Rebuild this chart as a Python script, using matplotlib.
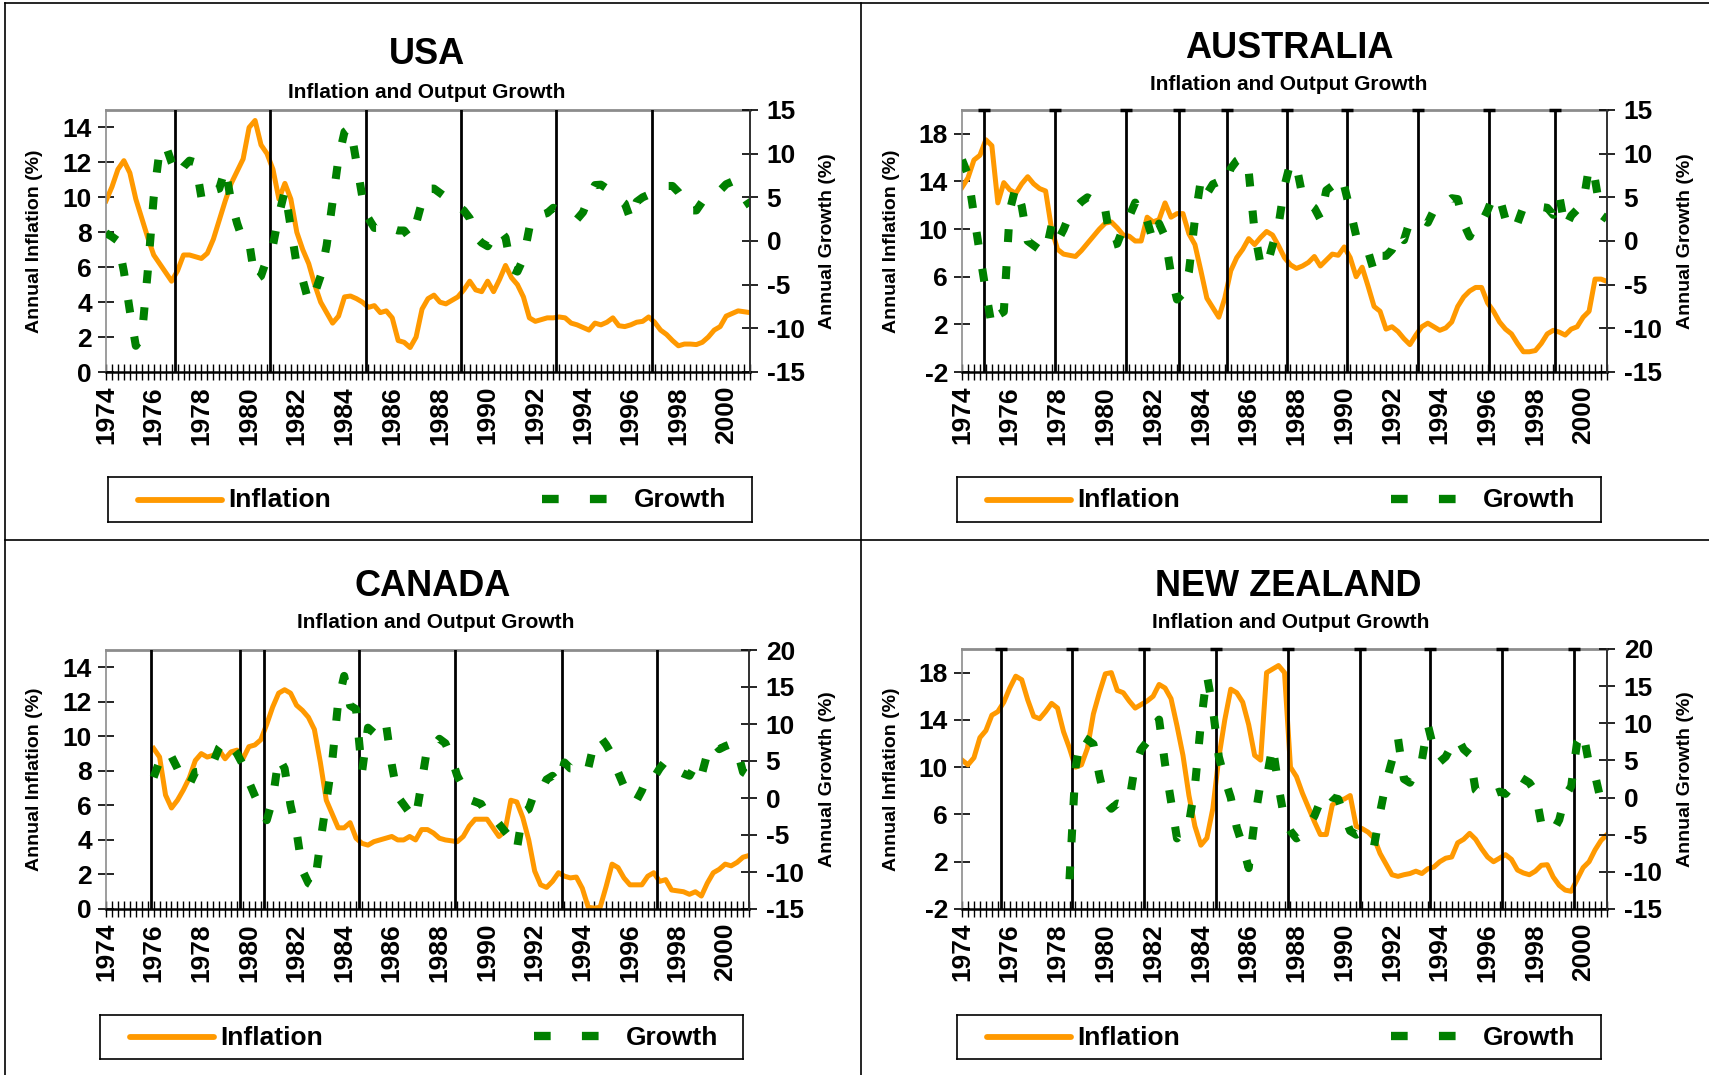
import numpy as np
import matplotlib.pyplot as plt
from matplotlib.lines import Line2D

plt.rcParams['font.family'] = ['Liberation Sans', 'DejaVu Sans']
plt.rcParams['font.weight'] = 'bold'
plt.rcParams['axes.labelweight'] = 'bold'
plt.rcParams['axes.unicode_minus'] = False

W, H = 1709, 1075
ORANGE = '#FF9900'
GREEN = '#008000'

# quarterly series, first value is the quarter given by *_start
usa_start = 1974.0
usa_inflation = [9.8, 10.6, 11.6, 12.1, 11.4, 9.9, 8.8, 7.7, 6.7, 6.2, 5.7, 5.2,
                 5.8, 6.7, 6.7, 6.6, 6.5, 6.8, 7.6, 8.7, 9.8, 10.8, 11.5, 12.2,
                 14.0, 14.4, 13.0, 12.5, 11.6, 9.9, 10.8, 9.9, 8.0, 7.0, 6.2, 5.0,
                 4.0, 3.4, 2.8, 3.2, 4.3, 4.35, 4.2, 4.0, 3.7, 3.8, 3.4, 3.5,
                 3.1, 1.8, 1.7, 1.4, 2.0, 3.6, 4.2, 4.4, 4.0, 3.9, 4.1, 4.3,
                 4.7, 5.2, 4.7, 4.6, 5.2, 4.6, 5.3, 6.1, 5.4, 5.0, 4.3, 3.1,
                 2.9, 3.0, 3.1, 3.1, 3.15, 3.1, 2.8, 2.7, 2.55, 2.4, 2.8, 2.7,
                 2.85, 3.1, 2.65, 2.6, 2.7, 2.85, 2.9, 3.15, 2.85, 2.4, 2.15, 1.8,
                 1.5, 1.6, 1.6, 1.57, 1.7, 2.0, 2.4, 2.6, 3.2, 3.35, 3.5, 3.45, 3.4]
usa_growth = [0.9, 0.5, 0.0, -3.5, -8.0, -12.0, -11.0, -3.5, 5.0, 10.5, 11.0, 9.0,
              7.5, 8.5, 9.2, 9.0, 5.0, 4.5, 5.8, 6.0, 8.3, 4.5, 2.0, 0.0,
              -0.1, -4.5, -4.0, -2.0, -0.5, 3.0, 5.8, 1.5, -2.8, -4.5, -7.0, -6.0,
              -4.0, -0.5, 4.5, 9.5, 12.5, 13.0, 9.0, 5.0, 2.6, 1.5, 1.5, 2.0,
              1.4, 1.2, 1.2, 0.3, 2.0, 4.5, 6.0, 6.0, 5.5, 5.0, 4.6, 4.0,
              3.5, 2.6, 0.5, -0.2, -0.6, 0.5, 1.3, 0.4, -3.2, -3.5, -2.0, 1.5,
              3.0, 3.0, 3.2, 3.8, 3.5, 3.2, 2.8, 2.5, 3.3, 5.0, 6.4, 6.45,
              6.0, 5.3, 4.8, 4.3, 2.4, 4.5, 5.0, 5.3, 5.6, 6.1, 6.3, 6.3,
              5.6, 4.6, 3.5, 3.5, 4.5, 5.2, 5.6, 5.8, 6.5, 6.8, 6.3, 5.0, 4.0]
usa_elections = [1976.88, 1980.88, 1984.88, 1988.88, 1992.88, 1996.88]

aus_start = 1974.0
aus_inflation = [13.5, 14.3, 15.8, 16.2, 17.5, 17.0, 12.2, 13.9, 13.3, 13.0, 13.8, 14.4,
                 13.8, 13.4, 13.2, 10.0, 8.3, 7.9, 7.8, 7.7, 8.2, 8.8, 9.4, 10.0,
                 10.5, 10.6, 10.1, 9.5, 9.4, 9.0, 9.0, 11.0, 10.6, 10.8, 12.2, 11.0,
                 11.3, 11.3, 9.6, 8.7, 6.5, 4.2, 3.4, 2.6, 4.2, 6.5, 7.6, 8.3,
                 9.2, 8.7, 9.3, 9.8, 9.5, 8.6, 7.6, 7.0, 6.7, 6.9, 7.2, 7.7,
                 6.9, 7.4, 7.9, 7.8, 8.5, 7.6, 6.0, 6.8, 5.2, 3.5, 3.1, 1.6,
                 1.8, 1.4, 0.8, 0.3, 1.1, 1.8, 2.1, 1.8, 1.5, 1.7, 2.2, 3.5,
                 4.3, 4.8, 5.1, 5.1, 3.8, 3.1, 2.2, 1.6, 1.2, 0.4, -0.3, -0.3,
                 -0.2, 0.4, 1.2, 1.5, 1.35, 1.1, 1.6, 1.8, 2.6, 3.1, 5.8, 5.8, 5.6]
aus_growth = [9.3, 7.6, 3.0, -1.5, -5.8, -9.8, -8.5, -8.1, 3.5, 6.2, 4.0, 0.0,
              -0.5, -1.0, -1.4, 1.8, 0.0, 1.3, 3.0, 3.8, 4.5, 5.0, 4.6, 4.8,
              3.5, -0.5, -0.3, 1.5, 2.8, 4.4, 2.3, 2.3, 0.0, 2.0, 0.5, -3.8,
              -6.7, -6.0, -3.5, 2.5, 7.0, 5.4, 6.5, 6.8, 6.4, 8.3, 9.2, 9.6,
              8.0, 1.0, -2.7, -3.0, -0.5, 1.8, 6.3, 9.0, 8.6, 5.2, 4.3, 3.8,
              2.5, 5.8, 6.3, 5.2, 6.3, 3.5, 0.6, -0.8, -1.2, -3.5, -1.7, -1.7,
              -1.0, 0.8, 0.1, 2.3, 2.4, 2.5, 2.1, 3.5, 4.0, 4.3, 4.9, 4.8,
              2.0, 0.5, 2.0, 2.1, 3.5, 5.2, 5.0, 2.5, 1.2, 2.0, 3.9, 3.9,
              3.9, 3.9, 3.8, 3.0, 5.2, 1.5, 2.9, 3.6, 4.3, 8.5, 7.0, 3.0, 2.5]
aus_elections = [1974.93, 1977.88, 1980.87, 1983.08, 1985.1, 1987.61,
                 1990.1, 1993.08, 1996.07, 1998.83]

can_start = 1976.0
can_inflation = [9.3, 8.8, 6.6, 5.85, 6.3, 6.9, 7.6, 8.6, 9.0, 8.8, 8.9, 9.2,
                 8.7, 9.1, 9.2, 8.7, 9.4, 9.5, 9.8, 10.7, 11.7, 12.5, 12.7, 12.5,
                 11.8, 11.5, 11.1, 10.4, 8.5, 6.3, 5.5, 4.7, 4.7, 5.0, 4.1, 3.8,
                 3.7, 3.9, 4.0, 4.1, 4.2, 4.0, 4.0, 4.2, 4.0, 4.6, 4.6, 4.4,
                 4.1, 4.0, 3.95, 3.9, 4.2, 4.8, 5.2, 5.2, 5.2, 4.7, 4.2, 4.5,
                 6.3, 6.2, 5.3, 4.0, 2.2, 1.4, 1.25, 1.6, 2.1, 1.9, 1.8, 1.85,
                 1.2, 0.1, 0.05, 0.1, 1.3, 2.6, 2.4, 1.8, 1.4, 1.4, 1.4, 1.9,
                 2.1, 1.6, 1.7, 1.1, 1.05, 1.0, 0.85, 1.0, 0.75, 1.5, 2.1, 2.3,
                 2.6, 2.5, 2.7, 3.0, 3.1]
can_growth = [2.8, 5.0, 6.3, 5.6, 4.0, 2.2, 1.8, 3.5, 3.6, 3.6, 4.8, 6.8,
              7.8, 7.0, 6.0, 4.5, 2.2, 0.3, -1.4, -3.0, -0.2, 5.5, 4.0, -1.0,
              -4.5, -9.8, -11.5, -12.0, -6.0, -0.5, 5.0, 13.0, 16.5, 12.5, 12.0, 3.5,
              9.5, 8.8, 10.3, 10.2, 4.5, 0.2, -0.9, -2.0, -2.8, 2.0, 7.0, 7.0,
              8.0, 7.4, 5.5, 3.0, 1.5, -0.2, -0.5, -0.8, -2.3, -2.5, -3.5, -4.5,
              -5.5, -7.0, -2.0, -1.5, 0.8, 0.8, 2.5, 3.0, 2.0, 4.8, 4.0, 4.0,
              4.8, 4.0, 7.5, 8.3, 7.2, 5.8, 3.5, 1.6, 0.8, -0.5, 1.0, 3.0,
              2.7, 4.0, 5.0, 4.5, 3.7, 3.3, 3.0, 4.5, 3.0, 6.0, 7.5, 6.6,
              7.0, 7.3, 6.5, 3.5, 3.0]
can_elections = [1975.9, 1979.63, 1980.63, 1984.63, 1988.65, 1993.13, 1997.13]

nz_start = 1974.0
nz_inflation = [10.6, 10.2, 10.8, 12.5, 13.1, 14.4, 14.7, 15.5, 16.7, 17.7, 17.4, 15.7,
                14.3, 14.1, 14.7, 15.4, 15.0, 13.0, 11.6, 10.0, 10.2, 11.6, 14.5, 16.3,
                17.9, 18.0, 16.5, 16.3, 15.6, 15.0, 15.3, 15.6, 16.0, 17.0, 16.7, 15.8,
                13.5, 11.0, 7.6, 5.0, 3.4, 4.0, 6.5, 10.8, 14.0, 16.6, 16.3, 15.5,
                13.6, 11.0, 10.6, 18.0, 18.3, 18.6, 18.0, 10.0, 9.2, 7.8, 6.6, 5.4,
                4.3, 4.3, 6.8, 7.2, 7.3, 7.6, 5.0, 4.8, 4.5, 4.0, 2.7, 1.8,
                0.9, 0.76, 0.9, 1.0, 1.2, 1.0, 1.4, 1.55, 2.0, 2.3, 2.4, 3.6,
                3.9, 4.4, 3.9, 3.1, 2.4, 2.0, 2.3, 2.6, 2.2, 1.3, 1.05, 0.9,
                1.2, 1.7, 1.75, 0.7, 0.0, -0.4, -0.5, 0.5, 1.5, 2.0, 3.0, 3.8, 4.3]
nz_growth_start = 1978.5
nz_growth = [-11.0, 4.0, 8.3, 7.8, 7.2, 3.0,
             -0.5, -1.5, -0.8, -1.0, -0.5, 4.5, 6.5, 7.5, 9.5, 10.5, 4.5, -0.5,
             -5.5, -4.5, -3.5, 1.5, 10.0, 16.5, 12.0, 5.5, 2.5, 0.0, -4.0, -6.5,
             -9.5, -3.0, 2.0, 2.5, 7.0, 1.5, -3.0, -4.5, -5.5, -5.0, -3.8, -2.5,
             -0.5, 0.8, 0.0, -0.2, -2.5, -4.5, -5.0, -4.6, -5.5, -6.5, -2.0, 2.0,
             5.0, 8.0, 2.5, 2.0, 3.5, 5.0, 9.8, 6.5, 4.8, 5.5, 7.0, 8.0,
             6.5, 5.8, 1.0, 0.3, 0.0, 0.5, 0.8, 0.5, 1.5, 3.0, 2.5, 2.0,
             0.8, -3.5, -4.5, -4.5, -3.0, 0.2, 1.5, 7.5, 8.8, 4.5, 3.0, -0.5, -1.0]
nz_elections = [1975.63, 1978.6, 1981.62, 1984.62, 1987.65, 1990.65,
                1993.61, 1996.61, 1999.61]

year_ticks = np.arange(1974, 2001.01, 0.25)
year_labels = [str(int(t)) if t % 2 == 0 else '' for t in year_ticks]


def px_box(x0, y0, x1, y1):
    return [x0 / W, 1 - y1 / H, (x1 - x0) / W, (y1 - y0) / H]


def draw_panel(fig, name, infl, infl_start, growth, growth_start, elections,
               box, ylim, yticks, glim, gticks, title_xy, sub_xy, legend_box, caps):
    ax = fig.add_axes(px_box(*box))
    ax2 = ax.twinx()

    x_inf = infl_start + np.arange(len(infl)) / 4
    x_gr = growth_start + np.arange(len(growth)) / 4
    ax.plot(x_inf, infl, color=ORANGE, lw=3.6, solid_joinstyle='round', zorder=2)
    for d in elections:
        ax.axvline(d, color='black', lw=2.0, zorder=3)
    if caps:
        ax.plot(elections, [ylim[1]] * len(elections), ls='none', marker='_',
                ms=9, mew=2.5, color='black', clip_on=False, zorder=4)
    ax2.plot(x_gr, growth, color=GREEN, lw=5.8, dashes=(1.6, 3.0),
             dash_capstyle='butt')

    ax.set_xlim(1974, 2001)
    ax.set_ylim(*ylim)
    ax.set_yticks(yticks)
    ax2.set_ylim(*glim)
    ax2.set_yticks(gticks)
    ax.set_xticks(year_ticks)
    ax.set_xticklabels(year_labels)

    ax.tick_params(axis='x', direction='inout', length=12, width=1.0,
                   labelsize=19, pad=4, labelrotation=90)
    ax.tick_params(axis='y', direction='inout', length=12, width=1.2,
                   labelsize=19, pad=4)
    ax2.tick_params(axis='y', direction='inout', length=12, width=1.2,
                    labelsize=19, pad=6)

    ax.spines['top'].set_color('#8c8c8c')
    ax.spines['top'].set_linewidth(2.0)
    ax.spines['left'].set_color('#8c8c8c')
    ax.spines['left'].set_linewidth(1.2)
    ax.spines['bottom'].set_linewidth(1.8)
    ax.spines['right'].set_visible(False)
    for s in ('top', 'left', 'bottom'):
        ax2.spines[s].set_visible(False)
    ax2.spines['right'].set_color('#303030')
    ax2.spines['right'].set_linewidth(1.4)

    ax.set_ylabel('Annual Inflation (%)', fontsize=14, fontweight='bold')
    ax.yaxis.set_label_coords(-71 / (box[2] - box[0]), 0.5)
    ax.yaxis.label.set_va('center')
    ax2.set_ylabel('Annual Growth (%)', fontsize=14, fontweight='bold', rotation=90)
    ax2.yaxis.set_label_coords(1 + 78 / (box[2] - box[0]), 0.5)
    ax2.yaxis.label.set_va('center')

    fig.text(title_xy[0] / W, 1 - title_xy[1] / H, name, fontsize=26,
             ha='center', va='center')
    fig.text(sub_xy[0] / W, 1 - sub_xy[1] / H, 'Inflation and Output Growth',
             fontsize=15, ha='center', va='center')

    # legend box with its two entries
    lg = fig.add_axes(px_box(*legend_box))
    lg.set_xlim(0, legend_box[2] - legend_box[0])
    lg.set_ylim(0, 1)
    lg.set_xticks([])
    lg.set_yticks([])
    for s in lg.spines.values():
        s.set_linewidth(1.2)
    lg.plot([30, 114], [0.5, 0.5], color=ORANGE, lw=4.2, solid_capstyle='round')
    lg.text(120, 0.48, 'Inflation', fontsize=19, ha='left', va='center')
    lg.plot([434, 518], [0.52, 0.52], color=GREEN, lw=6.0, dashes=(2.0, 3.75),
            dash_capstyle='butt')
    lg.text(526, 0.48, 'Growth', fontsize=19, ha='left', va='center')


fig = plt.figure(figsize=(W / 100, H / 100), dpi=100)

draw_panel(fig, 'USA', usa_inflation, usa_start, usa_growth, usa_start, usa_elections,
           (106, 110, 750, 372), (0, 15), range(0, 15, 2), (-15, 15), range(-15, 16, 5),
           (427, 55), (427, 92), (108, 477, 752, 522), False)
draw_panel(fig, 'AUSTRALIA', aus_inflation, aus_start, aus_growth, aus_start, aus_elections,
           (962, 110, 1607, 372), (-2, 20), range(-2, 19, 4), (-15, 15), range(-15, 16, 5),
           (1289, 49), (1289, 85), (957, 477, 1601, 522), True)
draw_panel(fig, 'CANADA', can_inflation, can_start, can_growth, can_start, can_elections,
           (106, 650, 749, 909), (0, 15), range(0, 15, 2), (-15, 20), range(-15, 21, 5),
           (433, 586), (436, 622), (100, 1015, 743, 1059), False)
draw_panel(fig, 'NEW ZEALAND', nz_inflation, nz_start, nz_growth, nz_growth_start, nz_elections,
           (962, 649, 1607, 909), (-2, 20), range(-2, 19, 4), (-15, 20), range(-15, 21, 5),
           (1288, 586), (1291, 622), (957, 1015, 1601, 1059), True)

# page frame and the dividers between the four panels
frame = dict(transform=fig.transFigure, color='black', lw=1.2)
fig.add_artist(Line2D([5 / W, 5 / W], [0, 1 - 3 / H], **frame))
fig.add_artist(Line2D([5 / W, 1], [1 - 3 / H, 1 - 3 / H], **frame))
fig.add_artist(Line2D([861 / W, 861 / W], [0, 1 - 3 / H], **frame))
fig.add_artist(Line2D([5 / W, 1], [1 - 540 / H, 1 - 540 / H], **frame))

fig.savefig('out.png', dpi=100)
